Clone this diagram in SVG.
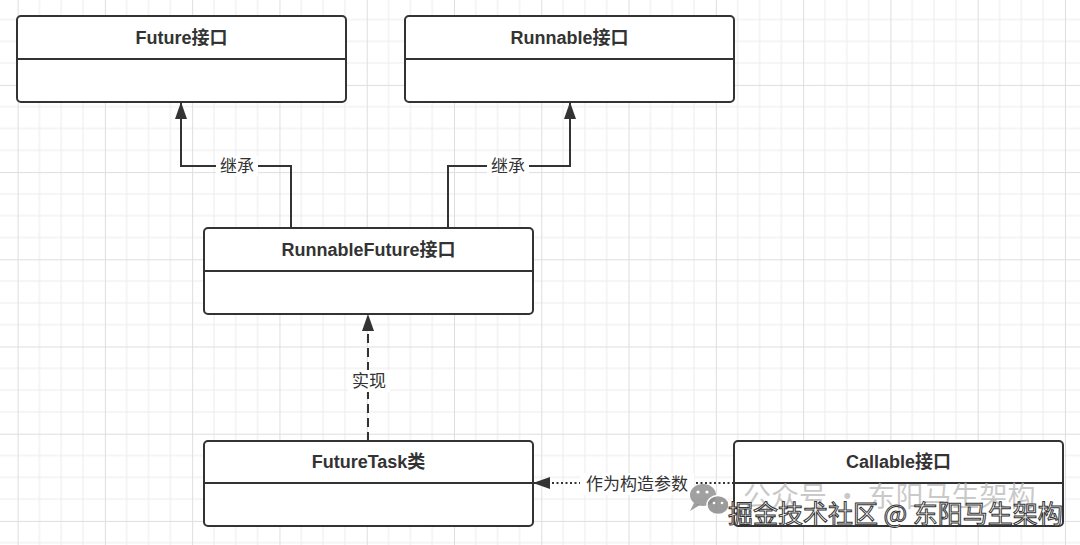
<svg xmlns="http://www.w3.org/2000/svg" width="1080" height="545" viewBox="0 0 1080 545">
  <defs>
    <pattern id="grid" patternUnits="userSpaceOnUse" x="17.6" y="-2.3" width="87.28" height="87.2">
      <path d="M21.82,0 V87.2 M43.64,0 V87.2 M65.46,0 V87.2 M0,21.8 H87.28 M0,43.6 H87.28 M0,65.4 H87.28" stroke="#ececec" stroke-width="1" fill="none"/>
      <path d="M0.5,0 V87.2 M0,0.5 H87.28" stroke="#dedede" stroke-width="1" fill="none"/>
    </pattern>
    <marker id="arrow" markerUnits="userSpaceOnUse" markerWidth="18" markerHeight="12" refX="17" refY="6" orient="auto">
      <path d="M0,0 L17,6 L0,12 Z" fill="#333"/>
    </marker>
    <style>
      .box { fill: #ffffff; stroke: #333333; stroke-width: 2; }
      .sep { stroke: #333333; stroke-width: 2; }
      .title { font-family: "Liberation Sans", "Noto Sans CJK SC", sans-serif; font-weight: bold; font-size: 18px; fill: #333333; text-anchor: middle; dominant-baseline: central; }
      .edge { fill: none; stroke: #333333; stroke-width: 2; }
      .label { font-family: "Liberation Sans", "Noto Sans CJK SC", sans-serif; font-size: 17px; fill: #333333; text-anchor: middle; dominant-baseline: central; }
      .lblbg { fill: #ffffff; }
      .wm1 { font-family: "Noto Sans CJK SC", sans-serif; font-size: 28px; fill: #b8b8b8; fill-opacity: 0.75; }
      .wm2 { font-family: "Noto Sans CJK SC", sans-serif; font-size: 25px; fill: #ffffff; stroke: #333333; stroke-width: 1; }
    </style>
  </defs>

  <rect x="0" y="0" width="1080" height="545" fill="#ffffff"/>
  <rect x="0" y="0" width="1080" height="545" fill="url(#grid)"/>

  <g id="connectors">
    <path class="edge" d="M291,228 V166 H181 V102" marker-end="url(#arrow)"/>
    <rect class="lblbg" x="216" y="156" width="42" height="20"/>
    <text class="label" x="237" y="166">继承</text>

    <path class="edge" d="M448,228 V166 H570 V102" marker-end="url(#arrow)"/>
    <rect class="lblbg" x="487" y="156" width="42" height="20"/>
    <text class="label" x="508" y="166">继承</text>

    <path class="edge" d="M368,441 V314" stroke-dasharray="9 5" marker-end="url(#arrow)"/>
    <rect class="lblbg" x="348" y="370" width="42" height="22"/>
    <text class="label" x="369" y="381">实现</text>

    <path class="edge" d="M734,483 H533" stroke-width="1.6" stroke-dasharray="2 2.5" marker-end="url(#arrow)"/>
    <rect class="lblbg" x="580" y="473" width="114" height="22"/>
    <text class="label" x="637" y="484">作为构造参数</text>
  </g>

  <g id="future">
    <rect class="box" x="17" y="16" width="329" height="86" rx="4"/>
    <line class="sep" x1="17" y1="59" x2="346" y2="59"/>
    <text class="title" x="181.5" y="38">Future接口</text>
  </g>

  <g id="runnable">
    <rect class="box" x="405" y="16" width="329" height="86" rx="4"/>
    <line class="sep" x1="405" y1="59" x2="734" y2="59"/>
    <text class="title" x="569.5" y="38">Runnable接口</text>
  </g>

  <g id="runnablefuture">
    <rect class="box" x="204" y="228" width="329" height="86" rx="4"/>
    <line class="sep" x1="204" y1="271" x2="533" y2="271"/>
    <text class="title" x="368.5" y="250">RunnableFuture接口</text>
  </g>

  <g id="futuretask">
    <rect class="box" x="204" y="441" width="329" height="85" rx="4"/>
    <line class="sep" x1="204" y1="483" x2="533" y2="483"/>
    <text class="title" x="368.5" y="462">FutureTask类</text>
  </g>

  <g id="callable">
    <rect class="box" x="734" y="441" width="329" height="85" rx="4"/>
    <line class="sep" x1="734" y1="483" x2="1063" y2="483"/>
    <text class="title" x="898.5" y="462">Callable接口</text>
  </g>

  <g id="watermark">
    <g fill="#8a8a8a" fill-opacity="0.8">
      <ellipse cx="703" cy="495" rx="13" ry="11"/>
      <path d="M694,503 L690,511 L700,505 Z"/>
    </g>
    <g fill="#8a8a8a" fill-opacity="0.85" stroke="#ffffff" stroke-width="1.5">
      <ellipse cx="718" cy="505" rx="11" ry="9.5"/>
    </g>
    <g fill="#ffffff">
      <circle cx="698" cy="492" r="1.6"/>
      <circle cx="707" cy="492" r="1.6"/>
      <circle cx="714" cy="503" r="1.3"/>
      <circle cx="722" cy="503" r="1.3"/>
    </g>
    <text class="wm1" x="743" y="507">公众号 · 东阳马生架构</text>
    <text class="wm2" x="728" y="523">掘金技术社区 @ 东阳马生架构</text>
  </g>
</svg>
